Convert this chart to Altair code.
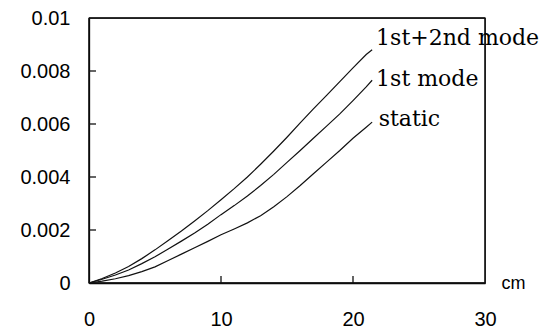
import altair as alt
import pandas as pd

# ---- data ----
x_pts = [0, 1, 2, 3, 4, 5, 6, 7, 8, 9, 10, 11, 12, 13, 14, 15, 16, 17, 18, 19, 20, 21, 21.45]
y_both = [0, 0.00017, 0.00038, 0.00062, 0.00092, 0.00125, 0.0016, 0.00196, 0.00234, 0.00273,
          0.00314, 0.00356, 0.004, 0.00448, 0.00498, 0.0055, 0.00604, 0.00657, 0.00708, 0.0076,
          0.00812, 0.00862, 0.0088]
y_first = [0, 0.00014, 0.0003, 0.00049, 0.00073, 0.00099, 0.00128, 0.00158, 0.00189, 0.00222,
           0.00258, 0.00292, 0.00328, 0.00368, 0.0041, 0.00455, 0.005, 0.00546, 0.00592, 0.00638,
           0.00688, 0.0074, 0.00765]
y_static = [0, 0.00007, 0.00016, 0.00028, 0.00043, 0.00061, 0.00085, 0.00109, 0.00133, 0.00157,
            0.00182, 0.00204, 0.00227, 0.00254, 0.00288, 0.00326, 0.00368, 0.00412, 0.00456, 0.005,
            0.00546, 0.00588, 0.00607]

series_names = ["1st+2nd mode", "1st mode", "static"]
label_x = [21.75, 21.75, 21.95]
label_y = [0.00898, 0.00743, 0.00592]

x_axis_values = [0, 10, 20, 30]
y_axis_values = [0, 0.002, 0.004, 0.006, 0.008, 0.01]
x_inner_ticks = [10, 20]
y_inner_ticks = [0.002, 0.004, 0.006, 0.008]
frame_x = [0, 30]
frame_y = [0, 0.01]

rows = []
for name, ys in zip(series_names, [y_both, y_first, y_static]):
    for xv, yv in zip(x_pts, ys):
        rows.append({"x": xv, "y": yv, "series": name})
df = pd.DataFrame(rows)
labels_df = pd.DataFrame({"x": label_x, "y": label_y, "label": series_names})
xt_df = pd.DataFrame({"v": x_inner_ticks})
yt_df = pd.DataFrame({"v": y_inner_ticks})
frame_x_df = pd.DataFrame({"v": frame_x})
frame_y_df = pd.DataFrame({"v": frame_y})

W, H = 396, 265

x_scale = alt.Scale(domain=[0, 30], nice=False, zero=True)
y_scale = alt.Scale(domain=[0, 0.01], nice=False, zero=True)

x_enc = alt.X(
    "x:Q", scale=x_scale,
    axis=alt.Axis(values=x_axis_values, ticks=False, domain=True, domainColor="#000",
                  domainWidth=1.3, grid=False,
                  labelPadding=26, labelFontSize=20, labelFont="Liberation Sans",
                  labelColor="black", labelFlush=False, labelOverlap=False,
                  title="cm", titleFont="Liberation Sans", titleFontSize=18,
                  titleFontWeight="normal", titleColor="black",
                  titleX=424, titleY=0, titleAlign="center", titleBaseline="middle",
                  titleAngle=0),
)
y_enc = alt.Y(
    "y:Q", scale=y_scale,
    axis=alt.Axis(values=y_axis_values, format="~g", ticks=False, domain=True,
                  domainColor="#000", domainWidth=1.3, grid=False,
                  labelPadding=19, labelFontSize=20, labelFont="Liberation Sans",
                  labelColor="black", labelFlush=False, labelOverlap=False, title=None),
)

lines = alt.Chart(df).mark_line(color="#111", strokeWidth=1.2).encode(
    x=x_enc, y=y_enc, detail="series:N"
)

texts = alt.Chart(labels_df).mark_text(
    align="left", baseline="alphabetic", font="DejaVu Serif", fontSize=22, color="black"
).encode(x=alt.X("x:Q", scale=x_scale), y=alt.Y("y:Q", scale=y_scale), text="label:N")

rule_style = dict(color="#111", strokeWidth=1.3)
xticks = alt.Chart(xt_df).mark_rule(**rule_style).encode(
    x=alt.X("v:Q", scale=x_scale), y=alt.value(H), y2=alt.value(H - 7)
)
yticks = alt.Chart(yt_df).mark_rule(**rule_style).encode(
    y=alt.Y("v:Q", scale=y_scale), x=alt.value(0), x2=alt.value(7)
)
frame_v = alt.Chart(frame_x_df).mark_rule(**rule_style).encode(
    x=alt.X("v:Q", scale=x_scale), y=alt.value(0), y2=alt.value(H)
)
frame_h = alt.Chart(frame_y_df).mark_rule(**rule_style).encode(
    y=alt.Y("v:Q", scale=y_scale), x=alt.value(0), x2=alt.value(W)
)

chart = alt.layer(lines, xticks, yticks, frame_v, frame_h, texts).properties(
    width=W, height=H,
    background="white",
    autosize=alt.AutoSizeParams(type="none"),
    padding={"left": 81, "top": 10, "right": 63, "bottom": 44},
).configure_view(stroke="#111", strokeWidth=1.3)

chart.save("out.html", embed_options={"renderer": "svg", "actions": False})
